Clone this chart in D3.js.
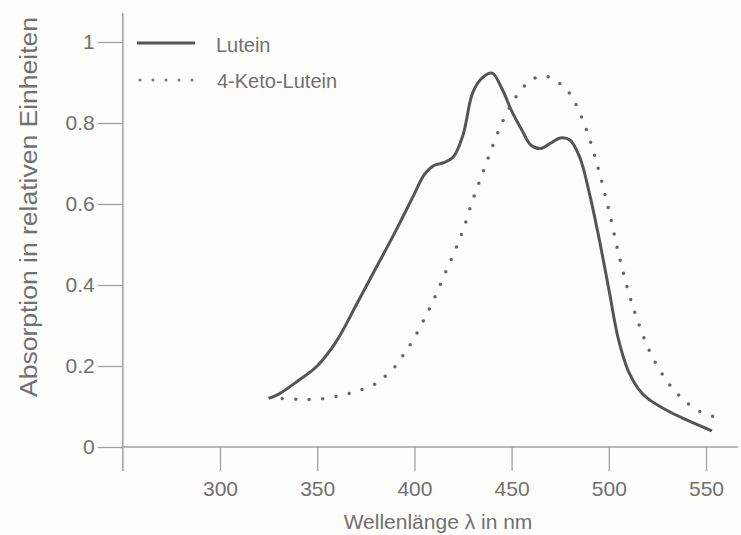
<!DOCTYPE html>
<html>
<head>
<meta charset="utf-8">
<script src="https://cdn.jsdelivr.net/npm/d3@7"></script>
<style>
  body { margin: 0; background: #fdfdfc; }
  text { font-family: "Liberation Sans", Arial, sans-serif; fill: #707070; }
</style>
</head>
<body>
<div id="chart"></div>
<script>
// Absorption spectra
const luteinWl = [325, 330, 340, 350, 360, 370, 380, 390, 400, 405, 410, 415, 420, 425, 430, 435, 440, 445, 450, 455, 460, 465, 470, 475, 480, 485, 490, 495, 500, 505, 510, 515, 520, 530, 540, 553];
const luteinAbs = [0.12, 0.13, 0.163, 0.20, 0.262, 0.35, 0.44, 0.53, 0.625, 0.672, 0.695, 0.702, 0.716, 0.77, 0.875, 0.912, 0.923, 0.885, 0.83, 0.785, 0.745, 0.737, 0.75, 0.763, 0.758, 0.716, 0.627, 0.515, 0.39, 0.265, 0.188, 0.145, 0.12, 0.09, 0.067, 0.04];

const ketoWl = [332, 340, 350, 360, 370, 380, 385, 390, 395, 400, 405, 410, 415, 420, 425, 430, 435, 440, 445, 450, 455, 460, 465, 470, 475, 480, 485, 490, 495, 500, 505, 510, 515, 520, 525, 530, 535, 540, 547, 554];
const ketoAbs = [0.12, 0.118, 0.118, 0.125, 0.137, 0.156, 0.175, 0.198, 0.232, 0.27, 0.315, 0.365, 0.42, 0.475, 0.535, 0.61, 0.675, 0.74, 0.80, 0.847, 0.883, 0.905, 0.916, 0.912, 0.897, 0.872, 0.826, 0.762, 0.68, 0.585, 0.478, 0.385, 0.31, 0.247, 0.20, 0.162, 0.133, 0.11, 0.087, 0.075];

const xTicks = [300, 350, 400, 450, 500, 550];
const yTicks = [0, 0.2, 0.4, 0.6, 0.8, 1];
const seriesNames = ["Lutein", "4-Keto-Lutein"];

const width = 741;
const height = 535;
const lineColor = "#555";
const axisColor = "#a0a0a0";

const svg = d3.select("#chart")
  .append("svg")
  .attr("width", width)
  .attr("height", height);

// scales: 300 nm -> 220px, 550 nm -> 706px ; 0 -> 447px, 1 -> 42px
const x = d3.scaleLinear().domain([300, 550]).range([220, 706]);
const y = d3.scaleLinear().domain([0, 1]).range([447, 42]);

// y axis
const yAxis = svg.append("g")
  .attr("transform", `translate(${x(250)},0)`)
  .call(d3.axisLeft(y).tickValues(yTicks).tickFormat(d => d === 0 || d === 1 ? d : d3.format(".1f")(d))
    .tickSizeInner(25).tickSizeOuter(0).tickPadding(3));
yAxis.select(".domain").remove();
yAxis.selectAll("line").attr("stroke", axisColor).attr("stroke-width", 1.3);
yAxis.selectAll("text").attr("font-size", 21).attr("fill", "#707070");
svg.append("line")
  .attr("x1", x(250)).attr("x2", x(250))
  .attr("y1", 13).attr("y2", 471)
  .attr("stroke", axisColor).attr("stroke-width", 1.5);

// x axis
const xAxis = svg.append("g")
  .attr("transform", `translate(0,${y(0)})`)
  .call(d3.axisBottom(x).tickValues(xTicks).tickSizeInner(24).tickSizeOuter(0).tickPadding(10));
xAxis.select(".domain").remove();
xAxis.selectAll("line").attr("stroke", axisColor).attr("stroke-width", 1.3);
xAxis.selectAll("text").attr("font-size", 21).attr("fill", "#707070");
svg.append("line")
  .attr("x1", x(250)).attr("x2", 738)
  .attr("y1", y(0)).attr("y2", y(0))
  .attr("stroke", axisColor).attr("stroke-width", 1.5);

// axis titles
svg.append("text")
  .attr("x", 438).attr("y", 529)
  .attr("text-anchor", "middle")
  .attr("font-size", 21)
  .text("Wellenlänge λ in nm");

svg.append("text")
  .attr("transform", "translate(37,207) rotate(-90)")
  .attr("text-anchor", "middle")
  .attr("font-size", 23)
  .attr("textLength", 380)
  .attr("lengthAdjust", "spacingAndGlyphs")
  .text("Absorption in relativen Einheiten");

// curves
const line = d3.line()
  .x(d => x(d[0]))
  .y(d => y(d[1]))
  .curve(d3.curveCatmullRom.alpha(0.5));

svg.append("path")
  .datum(d3.zip(luteinWl, luteinAbs))
  .attr("fill", "none")
  .attr("stroke", lineColor)
  .attr("stroke-width", 3)
  .attr("stroke-linejoin", "round")
  .attr("d", line);

svg.append("path")
  .datum(d3.zip(ketoWl, ketoAbs))
  .attr("fill", "none")
  .attr("stroke", "#666")
  .attr("stroke-width", 3.5)
  .attr("stroke-linecap", "round")
  .attr("stroke-dasharray", "0 13.5")
  .attr("d", line);

// legend
const legend = svg.append("g");
legend.append("line")
  .attr("x1", 137).attr("x2", 195).attr("y1", 43).attr("y2", 43)
  .attr("stroke", lineColor).attr("stroke-width", 3);
legend.append("text")
  .attr("x", 216).attr("y", 52).attr("font-size", 20).text(seriesNames[0]);
legend.append("line")
  .attr("x1", 140).attr("x2", 193).attr("y1", 80).attr("y2", 80)
  .attr("stroke", "#777").attr("stroke-width", 3).attr("stroke-linecap", "round")
  .attr("stroke-dasharray", "0 13");
legend.append("text")
  .attr("x", 217).attr("y", 88).attr("font-size", 20).text(seriesNames[1]);
</script>
</body>
</html>
